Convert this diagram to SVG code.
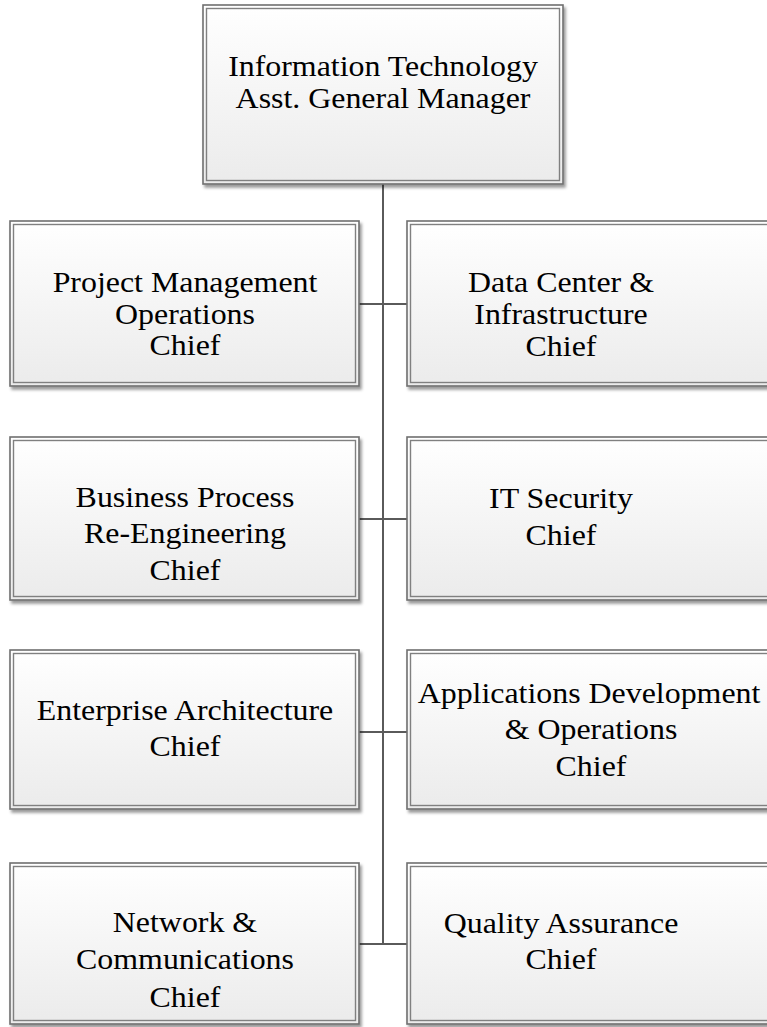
<svg xmlns="http://www.w3.org/2000/svg" width="767" height="1027" viewBox="0 0 767 1027">
<defs>
<linearGradient id="fillg" x1="0" y1="0" x2="0" y2="1">
<stop offset="0" stop-color="#ffffff"/>
<stop offset="1" stop-color="#ebebeb"/>
</linearGradient>
<filter id="shd" x="-5%" y="-5%" width="115%" height="115%">
<feDropShadow dx="2" dy="3" stdDeviation="1.5" flood-color="#000" flood-opacity="0.4"/>
</filter>
<style>
.box{fill:url(#fillg);stroke:#707070;stroke-width:1.6;filter:url(#shd)}
.inner{fill:none;stroke:#808080;stroke-width:1.4}
.t{font-family:"Liberation Serif","Times New Roman",serif;font-size:29px;fill:#000;text-anchor:middle}
.conn{stroke:#5a5a5a;stroke-width:2;fill:none}
</style>
</defs>
<g id="connectors">
<line class="conn" x1="383" y1="184" x2="383" y2="945"/>
<line class="conn" x1="359" y1="304" x2="407" y2="304"/>
<line class="conn" x1="359" y1="519" x2="407" y2="519"/>
<line class="conn" x1="359" y1="732" x2="407" y2="732"/>
<line class="conn" x1="359" y1="944" x2="407" y2="944"/>
</g>
<g id="n-agm">
<rect class="box" x="203" y="5" width="360" height="179"/>
<rect class="inner" x="206.5" y="8.5" width="353" height="172"/>
<text class="t" transform="translate(383,76) scale(1.1,1)">Information Technology</text>
<text class="t" transform="translate(383,108) scale(1.1,1)">Asst. General Manager</text>
</g>
<g id="n-pmo">
<rect class="box" x="10" y="221" width="349" height="165"/>
<rect class="inner" x="13.5" y="224.5" width="342" height="158"/>
<text class="t" transform="translate(185,292) scale(1.1,1)">Project Management</text>
<text class="t" transform="translate(185,324) scale(1.1,1)">Operations</text>
<text class="t" transform="translate(185,355) scale(1.1,1)">Chief</text>
</g>
<g id="n-dci">
<rect class="box" x="407" y="221" width="375" height="165"/>
<rect class="inner" x="410.5" y="224.5" width="368" height="158"/>
<text class="t" transform="translate(561,292) scale(1.1,1)">Data Center &amp;</text>
<text class="t" transform="translate(561,324) scale(1.1,1)">Infrastructure</text>
<text class="t" transform="translate(561,356) scale(1.1,1)">Chief</text>
</g>
<g id="n-bpr">
<rect class="box" x="10" y="437" width="349" height="163"/>
<rect class="inner" x="13.5" y="440.5" width="342" height="156"/>
<text class="t" transform="translate(185,507) scale(1.1,1)">Business Process</text>
<text class="t" transform="translate(185,543) scale(1.1,1)">Re-Engineering</text>
<text class="t" transform="translate(185,580) scale(1.1,1)">Chief</text>
</g>
<g id="n-sec">
<rect class="box" x="407" y="437" width="375" height="163"/>
<rect class="inner" x="410.5" y="440.5" width="368" height="156"/>
<text class="t" transform="translate(561,508) scale(1.1,1)">IT Security</text>
<text class="t" transform="translate(561,545) scale(1.1,1)">Chief</text>
</g>
<g id="n-ea">
<rect class="box" x="10" y="650" width="349" height="159"/>
<rect class="inner" x="13.5" y="653.5" width="342" height="152"/>
<text class="t" transform="translate(185,720) scale(1.1,1)">Enterprise Architecture</text>
<text class="t" transform="translate(185,756) scale(1.1,1)">Chief</text>
</g>
<g id="n-ado">
<rect class="box" x="407" y="650" width="375" height="159"/>
<rect class="inner" x="410.5" y="653.5" width="368" height="152"/>
<text class="t" transform="translate(589,703) scale(1.1,1)">Applications Development</text>
<text class="t" transform="translate(591,739) scale(1.1,1)">&amp; Operations</text>
<text class="t" transform="translate(591,776) scale(1.1,1)">Chief</text>
</g>
<g id="n-net">
<rect class="box" x="10" y="863" width="349" height="161"/>
<rect class="inner" x="13.5" y="866.5" width="342" height="154"/>
<text class="t" transform="translate(185,932) scale(1.1,1)">Network &amp;</text>
<text class="t" transform="translate(185,969) scale(1.1,1)">Communications</text>
<text class="t" transform="translate(185,1007) scale(1.1,1)">Chief</text>
</g>
<g id="n-qa">
<rect class="box" x="407" y="863" width="375" height="161"/>
<rect class="inner" x="410.5" y="866.5" width="368" height="154"/>
<text class="t" transform="translate(561,933) scale(1.1,1)">Quality Assurance</text>
<text class="t" transform="translate(561,969) scale(1.1,1)">Chief</text>
</g>
</svg>
